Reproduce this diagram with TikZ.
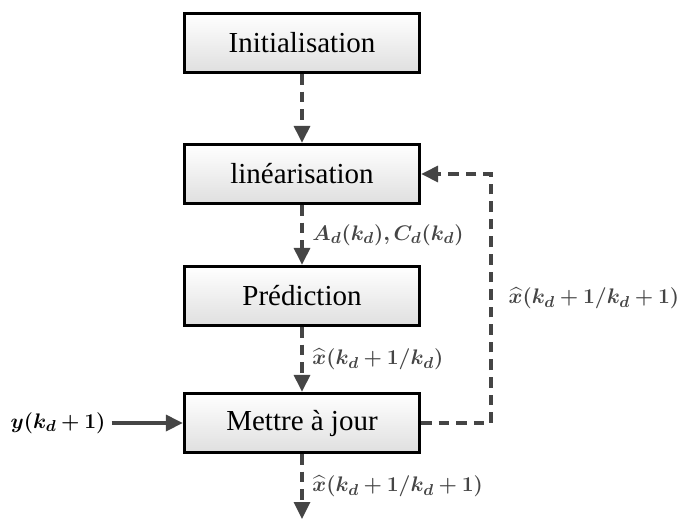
\documentclass[tikz,border=0pt]{standalone}
\usepackage{amsmath,amssymb,bm}
\usepackage{fontspec}
\setmainfont{Liberation Serif}
\usetikzlibrary{arrows.meta,positioning,calc}
\definecolor{arrgray}{HTML}{454545}

\begin{document}
\begin{tikzpicture}[
  x=0.02cm, y=-0.02cm,
  font=\fontsize{16.5}{19}\selectfont,
  stepbox/.style={draw, line width=1.9pt, align=center, minimum width=4.7cm, minimum height=1.18cm, top color=white, bottom color=gray!25},
  lbl/.style={font=\fontsize{12.5}{15}\selectfont, inner sep=1pt},
  darrow/.style={-{Triangle[length=3.4mm, width=3.2mm]}, arrgray, line width=1.9pt, dash pattern=on 6pt off 4pt},
  sarrow/.style={-{Triangle[length=3.4mm, width=3.2mm]}, arrgray, line width=1.9pt}
]
\useasboundingbox (0,0) rectangle (679,521);
\node[stepbox] (init) at (302,43) {Initialisation};
\node[stepbox] (lin) at (302,174) {linéarisation};
\node[stepbox] (pred) at (302,296) {Prédiction};
\node[stepbox] (maj) at (302,423) {Mettre à jour};
\coordinate (fin) at (302,519);

\draw[darrow] (init) -- (lin);
\draw[darrow] (lin) -- (pred) node[lbl, midway, right=4pt] {$\bm{A_d(k_d), C_d(k_d)}$};
\draw[darrow] (pred) -- (maj) node[lbl, midway, right=4pt] {$\bm{\widehat{x}(k_d+1/k_d)}$};
\draw[darrow] (maj) -- (fin) node[lbl, midway, right=4pt] {$\bm{\widehat{x}(k_d+1/k_d+1)}$};
\draw[darrow] (maj.east) -- ++(70,0) coordinate (fb) |- (lin.east)
  node[lbl, pos=0.25, right=8pt] {$\bm{\widehat{x}(k_d+1/k_d+1)}$};

\node[lbl] (meas) at (58,423) {$\bm{y(k_d+1)}$};
\draw[sarrow] (meas.east) ++(4,0) -- (maj.west);
\end{tikzpicture}
\end{document}
